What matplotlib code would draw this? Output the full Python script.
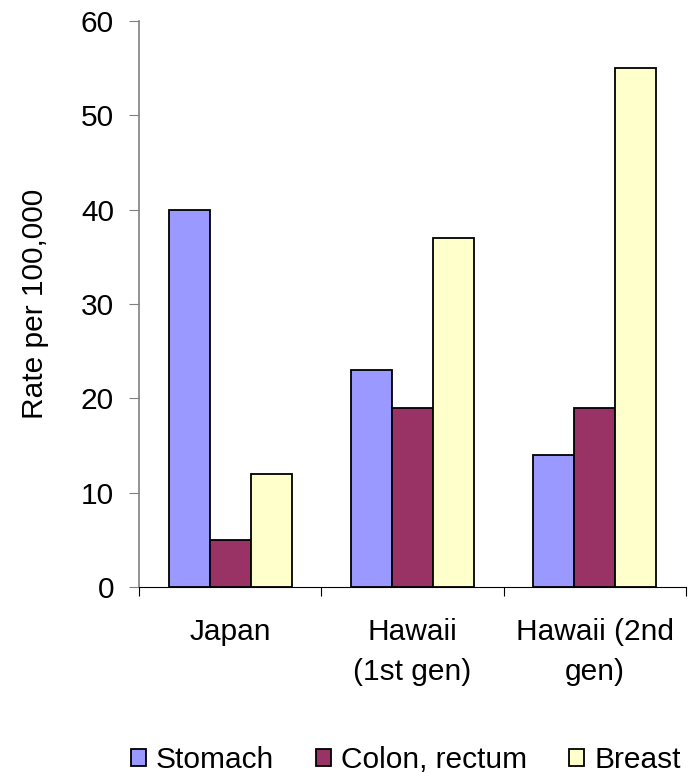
import numpy as np
import matplotlib.pyplot as plt
from matplotlib.patches import Patch

plt.rcParams['font.family'] = ['Liberation Sans', 'DejaVu Sans']

# Data
categories = ['Japan', 'Hawaii\n(1st gen)', 'Hawaii (2nd\ngen)']
series_names = ['Stomach', 'Colon, rectum', 'Breast']
stomach = [40, 23, 14]
colon = [5, 19, 19]
breast = [12, 37, 55]
colors = ['#9999ff', '#993366', '#ffffcc']
y_ticks = [0, 10, 20, 30, 40, 50, 60]

fs = 21.5

fig = plt.figure(figsize=(6.88, 7.73), dpi=100)
ax = fig.add_axes([0.202, 0.2406, 0.795, 0.7322])

x = np.arange(len(categories))
width = 0.225
for i, (vals, name, col) in enumerate(zip([stomach, colon, breast], series_names, colors)):
    ax.bar(x + (i - 1) * width, vals, width, color=col, edgecolor='black',
           linewidth=1.3, label=name, zorder=2)

ax.set_xlim(-0.5, len(categories) - 0.5)
ax.set_ylim(0, 60)
ax.set_yticks(y_ticks)
ax.tick_params(axis='y', labelsize=fs, length=7, direction='out', color='#808080', pad=11)

# tick marks between categories, labels centred under each group
ax.set_xticks(np.arange(len(categories) + 1) - 0.5)
ax.set_xticklabels([])
ax.tick_params(axis='x', which='major', length=6.5, direction='out', color='black')
ax.set_xticks(x, minor=True)
ax.set_xticklabels(categories, minor=True, fontsize=fs, linespacing=1.55)
ax.tick_params(axis='x', which='minor', length=0, pad=22)

ax.set_ylabel('Rate per 100,000', fontsize=fs, labelpad=23)

for s in ['top', 'right']:
    ax.spines[s].set_visible(False)
ax.spines['left'].set_color('#808080')
ax.spines['left'].set_linewidth(1.2)
ax.spines['bottom'].set_color('black')

handles = [Patch(facecolor=c, edgecolor='black', linewidth=1.3, label=n)
           for c, n in zip(colors, series_names)]
fig.legend(handles=handles, loc='center', bbox_to_anchor=(0.59, 0.017), ncol=3,
           frameon=False, fontsize=fs, handlelength=0.5, handleheight=0.5,
           handletextpad=0.35, columnspacing=1.4, borderpad=0, borderaxespad=0)

fig.savefig('out.png', dpi=100)
